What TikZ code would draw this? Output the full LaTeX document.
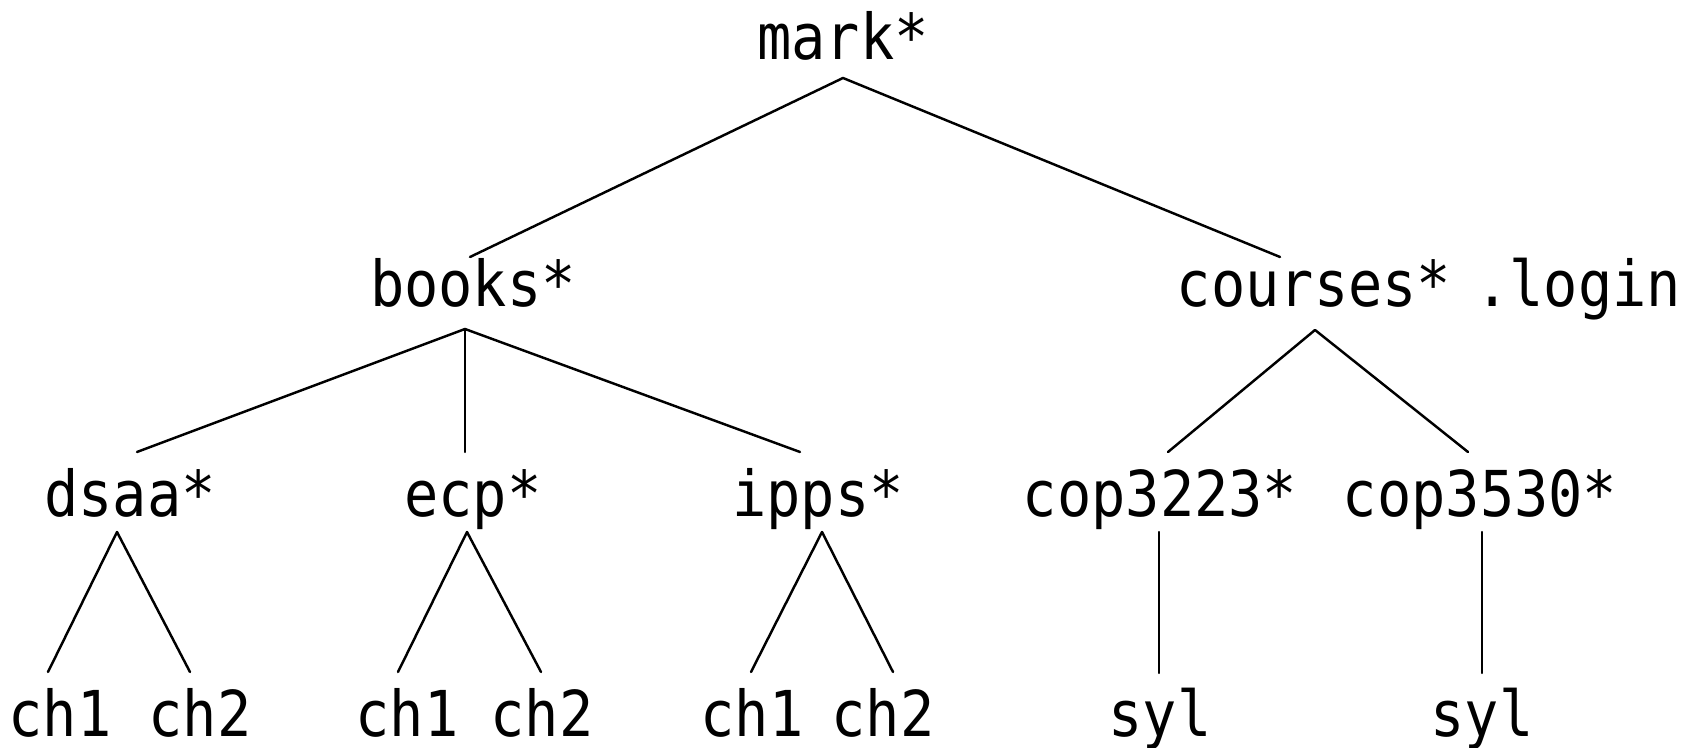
\documentclass[tikz,border=0pt]{standalone}
\usepackage{fontspec}
\newfontfamily\treefont[FakeStretch=0.9]{DejaVu Sans Mono}
\begin{document}
% one unit = one pixel of a 1696 x 748 canvas, y running downwards
\begin{tikzpicture}[x=0.1mm, y=-0.1mm,
    lbl/.style={anchor=base, inner sep=0pt, font=\treefont\fontsize{18pt}{20pt}\selectfont},
    edge/.style={draw=black, line width=0.7pt, line cap=round, line join=round}]
\useasboundingbox (0,0) rectangle (1696,748);

% directory names
\node[lbl] (mark)    at (843,60)   {mark*};
\node[lbl] (books)   at (473,307)  {books*};
\node[lbl] (courses) at (1314,307) {courses*};
\node[lbl] (login)   at (1578,307) {.login};
\node[lbl] (dsaa)    at (130,517)  {dsaa*};
\node[lbl] (ecp)     at (473,517)  {ecp*};
\node[lbl] (ipps)    at (818,517)  {ipps*};
\node[lbl] (copa)    at (1160,517) {cop3223*};
\node[lbl] (copb)    at (1480,517) {cop3530*};
\node[lbl] (dch1)    at (60,737)   {ch1};
\node[lbl] (dch2)    at (200,737)  {ch2};
\node[lbl] (ech1)    at (407,737)  {ch1};
\node[lbl] (ech2)    at (542,737)  {ch2};
\node[lbl] (ich1)    at (752,737)  {ch1};
\node[lbl] (ich2)    at (883,737)  {ch2};
\node[lbl] (sayl)    at (1160,737) {syl};
\node[lbl] (sbyl)    at (1482,737) {syl};

% mark*
\draw[edge] ([shift={(-3,-50)}]books.base) -- ([shift={(0,18)}]mark.base)
            -- ([shift={(-34,-50)}]courses.base);
% books*
\draw[edge] ([shift={(7,-65)}]dsaa.base) -- ([shift={(-8,22)}]books.base)
            -- ([shift={(327,-65)}]books.base |- ipps.base);
\draw[edge] ([shift={(-8,22)}]books.base) -- ([shift={(-8,-65)}]ecp.base);
% courses*
\draw[edge] ([shift={(8,-65)}]copa.base) -- ([shift={(1,23)}]courses.base)
            -- ([shift={(-12,-65)}]copb.base);
% dsaa*, ecp*, ipps*
\draw[edge] ([shift={(-12,-65)}]dch1.base) -- ([shift={(-13,15)}]dsaa.base)
            -- ([shift={(-10,-65)}]dch2.base);
\draw[edge] ([shift={(-9,-65)}]ech1.base) -- ([shift={(-6,15)}]ecp.base)
            -- ([shift={(-1,-65)}]ech2.base);
\draw[edge] ([shift={(-1,-65)}]ich1.base) -- ([shift={(4,15)}]ipps.base)
            -- ([shift={(10,-65)}]ich2.base);
% cop3223*, cop3530*
\draw[edge] ([shift={(-1,15)}]copa.base) -- ([shift={(-1,-64)}]sayl.base);
\draw[edge] ([shift={(2,15)}]copb.base) -- ([shift={(0,-64)}]sbyl.base);
\end{tikzpicture}
\end{document}
